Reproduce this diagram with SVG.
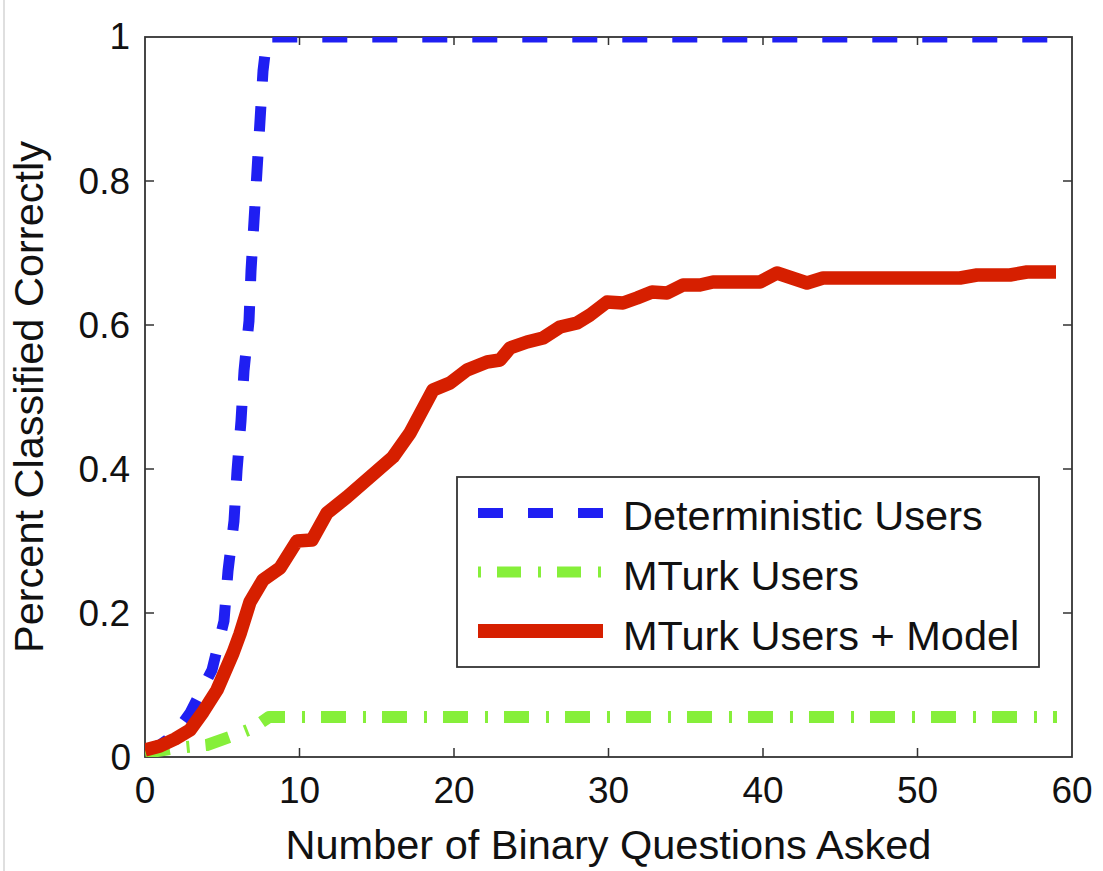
<svg xmlns="http://www.w3.org/2000/svg" width="1103" height="871" viewBox="0 0 1103 871">
<style>
text{font-family:"Liberation Sans",Arial,sans-serif;fill:#111}
.tick{font-size:37px}
.lab{font-size:41.5px}
.leg{font-size:41.5px}
.axis{fill:none;stroke:#333;stroke-width:1.8}
.tk{stroke:#333;stroke-width:1.5}
.blue{fill:none;stroke:#1f1ff2;stroke-width:11;stroke-dasharray:25 25;stroke-linejoin:round}
.green{fill:none;stroke:#86ef3a;stroke-width:12;stroke-dasharray:25 17 3 16;stroke-linejoin:round}
.red{fill:none;stroke:#d61f00;stroke-width:13.5;stroke-linejoin:round}
</style>
<defs>
<clipPath id="plotclip"><rect x="145" y="37" width="927" height="720"/></clipPath>
</defs>
<rect x="0" y="0" width="1103" height="871" fill="#fff"/>
<line x1="4" y1="0" x2="4" y2="871" stroke="#d4d4d4" stroke-width="1.5"/>

<g id="axes">
<rect class="axis" x="145" y="37" width="927" height="720"/>
<g id="xticks">
<path class="tk" d="M299.5,757v-9M454,757v-9M608.5,757v-9M763,757v-9M917.5,757v-9M299.5,37v8M454,37v8M608.5,37v8M763,37v8M917.5,37v8"/>
</g>
<g id="yticks">
<path class="tk" d="M145,613h9M145,469h9M145,325h9M145,181h9M1072,613h-9M1072,469h-9M1072,325h-9M1072,181h-9"/>
</g>
<g id="xlabels" text-anchor="middle">
<text class="tick" x="145" y="803">0</text>
<text class="tick" x="299.5" y="803">10</text>
<text class="tick" x="454" y="803">20</text>
<text class="tick" x="608.5" y="803">30</text>
<text class="tick" x="763" y="803">40</text>
<text class="tick" x="917.5" y="803">50</text>
<text class="tick" x="1072" y="803">60</text>
</g>
<g id="ylabels" text-anchor="end">
<text class="tick" x="131" y="770">0</text>
<text class="tick" x="130" y="626">0.2</text>
<text class="tick" x="130" y="482">0.4</text>
<text class="tick" x="130" y="338">0.6</text>
<text class="tick" x="130" y="194">0.8</text>
<text class="tick" x="130" y="49">1</text>
</g>
<text id="xtitle" class="lab" x="608.5" y="859" text-anchor="middle">Number of Binary Questions Asked</text>
<text id="ytitle" class="lab" x="0" y="0" text-anchor="middle" transform="translate(43,397) rotate(-90)">Percent Classified Correctly</text>
</g>

<g id="connectors" clip-path="url(#plotclip)">
<path id="deterministic" class="blue" d="M145,750 L160,745 L175,734 L190,713 L212,670 L224,621 L228,571 L234,521 L237,471 L241,421 L244,371 L249,321 L251,271 L254,221 L257,171 L260,121 L263,71 L267,37 L1072,37"/>
<path id="mturk" class="green" d="M145,753 L176,748 L207,745 L238,734 L253,728 L269,717 L1057,717"/>
<path id="mturkmodel" class="red" d="M145,750 L160,746 L175,739 L190,730 L203,712 L217,690 L233,653 L240,634 L250,602 L263,580 L280,568 L297,541 L312,540 L327,513 L347,497 L370,477 L393,457 L410,433 L433,390 L450,383 L467,370 L487,362 L500,360 L510,348 L527,342 L543,338 L560,327 L577,323 L590,315 L607,302 L623,303 L637,298 L652,292 L667,293 L683,285 L700,285 L713,282 L760,282 L777,273 L807,283 L823,278 L960,278 L977,275 L1010,275 L1027,272 L1056,272"/>
</g>

<g id="legend">
<rect x="457" y="477" width="582" height="190" fill="#fff" stroke="#333" stroke-width="1.8"/>
<line x1="478" y1="513" x2="603" y2="513" stroke="#1f1ff2" stroke-width="10" stroke-dasharray="25 25"/>
<line x1="478" y1="572" x2="601" y2="572" stroke="#86ef3a" stroke-width="11" stroke-dasharray="3 16 24 17"/>
<line x1="478" y1="631" x2="603" y2="631" stroke="#d61f00" stroke-width="14"/>
<text class="leg" x="623" y="530">Deterministic Users</text>
<text class="leg" x="623" y="590">MTurk Users</text>
<text class="leg" x="623" y="650">MTurk Users + Model</text>
</g>
</svg>
